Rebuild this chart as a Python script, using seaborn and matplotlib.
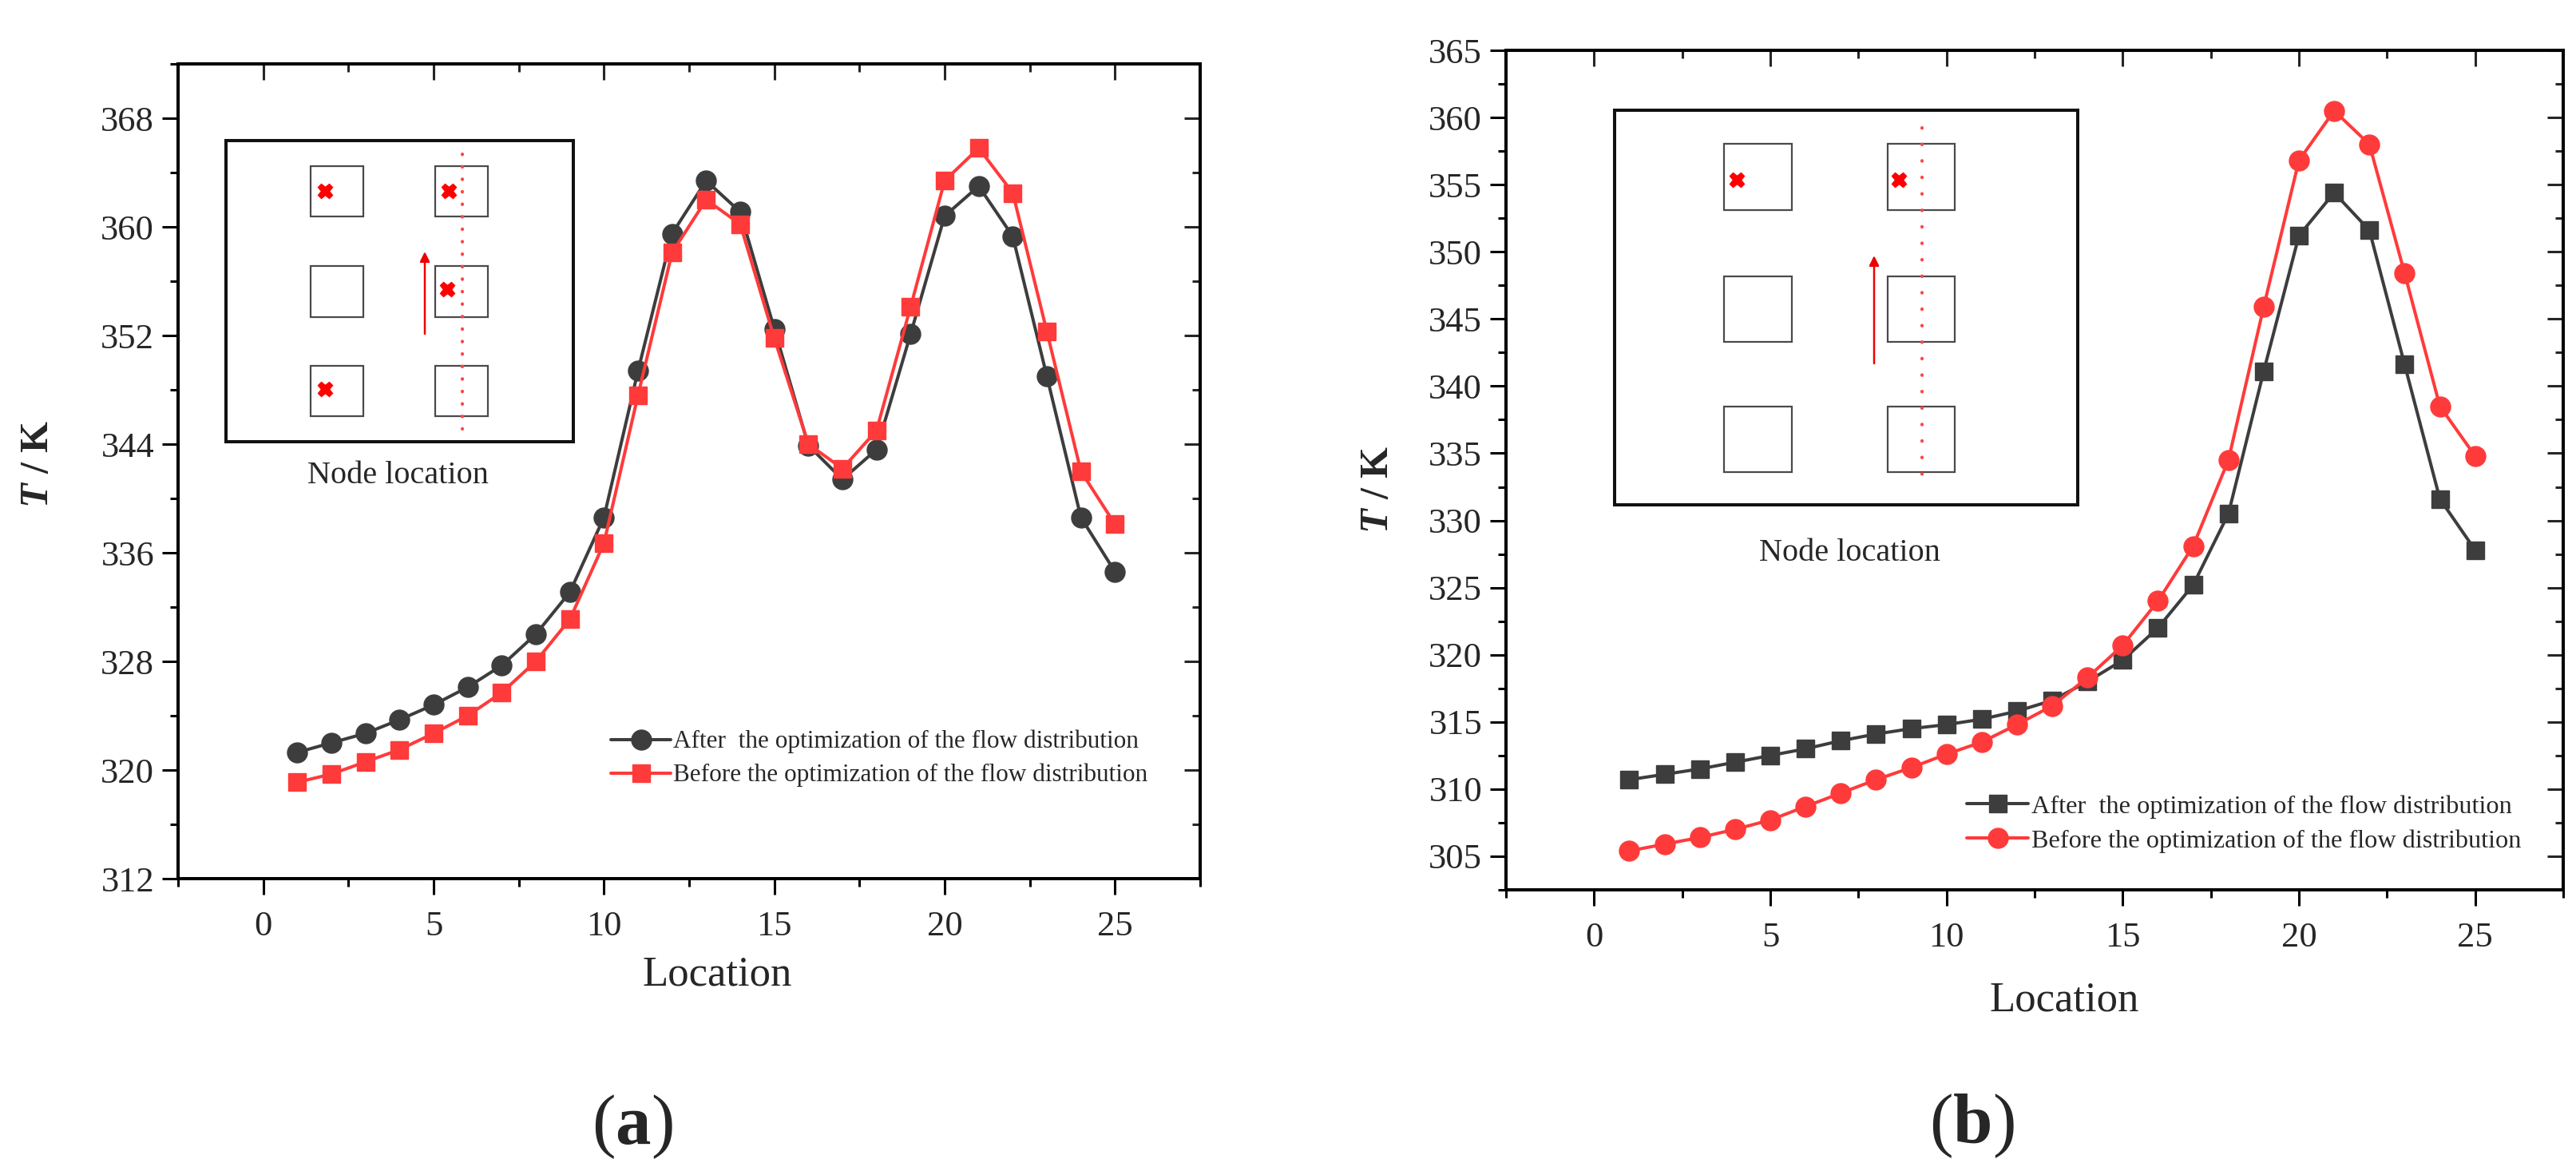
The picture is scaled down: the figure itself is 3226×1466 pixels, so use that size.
import matplotlib
matplotlib.use("Agg")
import matplotlib.pyplot as plt
from matplotlib.ticker import MultipleLocator
from matplotlib.patches import Rectangle
import seaborn as sns
import pandas as pd

# ---------------- data ----------------
location = list(range(1, 26))

a_after = [321.3, 322.0, 322.7, 323.7, 324.8, 326.1, 327.7, 330.0, 333.1, 338.6,
           349.4, 359.5, 363.4, 361.1, 352.5, 343.9, 341.4, 343.6, 352.1, 360.8,
           363.0, 359.3, 349.0, 338.6, 334.6]
a_before = [319.1, 319.7, 320.6, 321.5, 322.7, 324.0, 325.7, 328.0, 331.1, 336.7,
            347.6, 358.1, 362.0, 360.2, 351.8, 344.0, 342.2, 345.0, 354.1, 363.4,
            365.8, 362.5, 352.3, 342.0, 338.1]

b_after = [310.7, 311.1, 311.5, 312.0, 312.5, 313.0, 313.6, 314.1, 314.5, 314.8,
           315.2, 315.8, 316.6, 318.0, 319.6, 322.0, 325.2, 330.5, 341.1, 351.2,
           354.4, 351.6, 341.6, 331.6, 327.8]
b_before = [305.4, 305.9, 306.4, 307.0, 307.7, 308.7, 309.7, 310.7, 311.6, 312.6,
            313.5, 314.8, 316.2, 318.3, 320.7, 324.0, 328.1, 334.5, 345.9, 356.8,
            360.5, 358.0, 348.4, 338.5, 334.8]

series_labels = ["After  the optimization of the flow distribution",
                 "Before the optimization of the flow distribution"]
panel_labels = ["a", "b"]
x_label = "Location"
inset_label = "Node location"

# ---------------- style ----------------
sns.set_style("ticks")
SERIF = ["Liberation Serif", "DejaVu Serif"]
plt.rcParams["font.family"] = SERIF
plt.rcParams["mathtext.fontset"] = "custom"
plt.rcParams["mathtext.rm"] = "Liberation Serif"
plt.rcParams["mathtext.it"] = "Liberation Serif:italic"
plt.rcParams["mathtext.bf"] = "Liberation Serif:bold"
plt.rcParams["mathtext.bfit"] = "Liberation Serif:italic:bold"

BLACK = "#3d3d3d"
RED = "#ff3a3a"
W, H = 3226, 1466
fig = plt.figure(figsize=(W / 100, H / 100), dpi=100)

A_BOX = (223, 80, 1503, 1100)
B_BOX = (1886, 63, 3210, 1114)


def add_axes(box):
    l, t, r, b = box
    return fig.add_axes([l / W, 1 - b / H, (r - l) / W, (b - t) / H])


def fx(box, x):
    return (x - box[0]) / (box[2] - box[0])


def fy(box, y):
    return (box[3] - y) / (box[3] - box[1])


def style_axes(ax, ylim, ymaj, ymin):
    ax.set_xlim(-2.5, 27.5)
    ax.set_ylim(*ylim)
    ax.xaxis.set_major_locator(MultipleLocator(5))
    ax.xaxis.set_minor_locator(MultipleLocator(2.5))
    ax.yaxis.set_major_locator(MultipleLocator(ymaj))
    ax.yaxis.set_minor_locator(MultipleLocator(ymin))
    for s in ax.spines.values():
        s.set_visible(True)
        s.set_linewidth(2.9)
        s.set_color("black")
    ax.tick_params(which="both", direction="out", width=2.2, color="black",
                   labelsize=32, top=False, right=False)
    ax.tick_params(which="major", length=14.5)
    ax.tick_params(which="minor", length=7.5)
    ax.tick_params(axis="x", which="both", pad=14)
    ax.tick_params(axis="y", which="both", pad=7)
    secx = ax.secondary_xaxis("top")
    secx.xaxis.set_major_locator(MultipleLocator(5))
    secx.xaxis.set_minor_locator(MultipleLocator(2.5))
    secx.tick_params(which="both", direction="in", width=2.2, labeltop=False)
    secx.tick_params(which="major", length=14.5)
    secx.tick_params(which="minor", length=7.5)
    secx.spines["top"].set_linewidth(2.9)
    secy = ax.secondary_yaxis("right")
    secy.yaxis.set_major_locator(MultipleLocator(ymaj))
    secy.yaxis.set_minor_locator(MultipleLocator(ymin))
    secy.tick_params(which="both", direction="in", width=2.2, labelright=False)
    secy.tick_params(which="major", length=14.5)
    secy.tick_params(which="minor", length=7.5)
    secy.spines["right"].set_linewidth(2.9)


def draw_inset(ax, box, outer, cols, rows, crosses, dot_x, dot_y, dot_gap,
               arrow_x, arrow_y, text_xy):
    tr = ax.transAxes
    (x0, y0, x1, y1) = outer
    ax.add_patch(Rectangle((fx(box, x0), fy(box, y1)), fx(box, x1) - fx(box, x0),
                           fy(box, y0) - fy(box, y1), transform=tr, fill=False,
                           lw=2.9, ec="#111111", zorder=1))
    for (cx0, cx1) in cols:
        for (ry0, ry1) in rows:
            ax.add_patch(Rectangle((fx(box, cx0), fy(box, ry1)),
                                   fx(box, cx1) - fx(box, cx0),
                                   fy(box, ry0) - fy(box, ry1), transform=tr,
                                   fill=False, lw=1.6, ec="#4a4a4a", zorder=1))
    ax.plot([fx(box, dot_x)] * 2, [fy(box, dot_y[0]), fy(box, dot_y[1])],
            transform=tr, color="#ff4545", lw=3.0,
            linestyle=(0, (0.1, dot_gap)), dash_capstyle="round", zorder=1)
    for (mx, my) in crosses:
        ax.plot([fx(box, mx)], [fy(box, my)], transform=tr, marker="X",
                markersize=13, color="#ff0000", mec="#ff0000", zorder=2)
    ax.annotate("", xy=(fx(box, arrow_x), fy(box, arrow_y[1])),
                xytext=(fx(box, arrow_x), fy(box, arrow_y[0])),
                xycoords=tr, textcoords=tr,
                arrowprops=dict(arrowstyle="-|>", color="#ee0000", lw=1.8,
                                mutation_scale=18, shrinkA=0, shrinkB=0),
                zorder=2)
    ax.text(fx(box, text_xy[0]), fy(box, text_xy[1]), inset_label,
            transform=tr, ha="center", va="baseline", fontsize=29)


def draw_panel(box, after, before, mk_after, mk_before, ylim, ymaj, ymin,
               leg_xy, leg_fs, leg_sp, ylab_xy, xlab_xy, letter, letter_xy,
               ms_after, ms_before):
    ax = add_axes(box)
    df = pd.DataFrame({"Location": location, "After": after, "Before": before})
    sns.lineplot(data=df, x="Location", y="After", ax=ax, color=BLACK,
                 marker=mk_after, markersize=ms_after, markeredgecolor=BLACK,
                 markeredgewidth=1, linewidth=2.9, label=series_labels[0],
                 zorder=3)
    sns.lineplot(data=df, x="Location", y="Before", ax=ax, color=RED,
                 marker=mk_before, markersize=ms_before, markeredgecolor=RED,
                 markeredgewidth=1, linewidth=2.9, label=series_labels[1],
                 zorder=4)
    style_axes(ax, ylim, ymaj, ymin)
    ax.legend(loc="upper left",
              bbox_to_anchor=(fx(box, leg_xy[0]), fy(box, leg_xy[1])),
              frameon=False, borderpad=0, borderaxespad=0, handlelength=2.4,
              handletextpad=0.1, labelspacing=leg_sp,
              prop={"family": SERIF, "size": leg_fs})
    ax.set_ylabel(r"$\mathbfit{T}$ / K", fontsize=36, fontweight="bold")
    ax.yaxis.set_label_coords(fx(box, ylab_xy[0]), fy(box, ylab_xy[1]))
    ax.yaxis.label.set_va("center")
    ax.yaxis.label.set_ha("center")
    ax.set_xlabel(x_label, fontsize=38)
    ax.xaxis.set_label_coords(fx(box, xlab_xy[0]), fy(box, xlab_xy[1]))
    ax.xaxis.label.set_va("baseline")
    fig.text(letter_xy[0] / W, 1 - letter_xy[1] / H, "(" + r"$\mathbf{" + letter + "}$" + ")",
             ha="center", va="center", fontsize=64)
    return ax


ax_a = draw_panel(A_BOX, a_after, a_before, "o", "s", (312, 372), 8, 4,
                  leg_xy=(765, 914), leg_fs=22.5, leg_sp=0.4,
                  ylab_xy=(48, 581), xlab_xy=(898, 1233), letter=panel_labels[0],
                  letter_xy=(792, 1411), ms_after=18, ms_before=16)
draw_inset(ax_a, A_BOX, outer=(283, 176, 718, 553),
           cols=[(389, 455), (545, 611)],
           rows=[(208, 271), (333, 397), (458, 521)],
           crosses=[(407, 239), (562, 239), (560, 362), (407, 487)],
           dot_x=579, dot_y=(193, 537), dot_gap=3.65,
           arrow_x=532, arrow_y=(418, 315), text_xy=(498, 605))

ax_b = draw_panel(B_BOX, b_after, b_before, "s", "o", (302.5, 365), 5, 2.5,
                  leg_xy=(2463, 995), leg_fs=23.2, leg_sp=0.42,
                  ylab_xy=(1726, 613), xlab_xy=(2585, 1265), letter=panel_labels[1],
                  letter_xy=(2469, 1410), ms_after=16, ms_before=18)
draw_inset(ax_b, B_BOX, outer=(2022, 138, 2602, 632),
           cols=[(2159, 2244), (2364, 2448)],
           rows=[(180, 263), (346, 428), (509, 591)],
           crosses=[(2175, 225), (2378, 225)],
           dot_x=2407, dot_y=(160, 613), dot_gap=4.85,
           arrow_x=2347, arrow_y=(455, 320), text_xy=(2316, 702))

fig.savefig("out.png", dpi=100, facecolor="white")
